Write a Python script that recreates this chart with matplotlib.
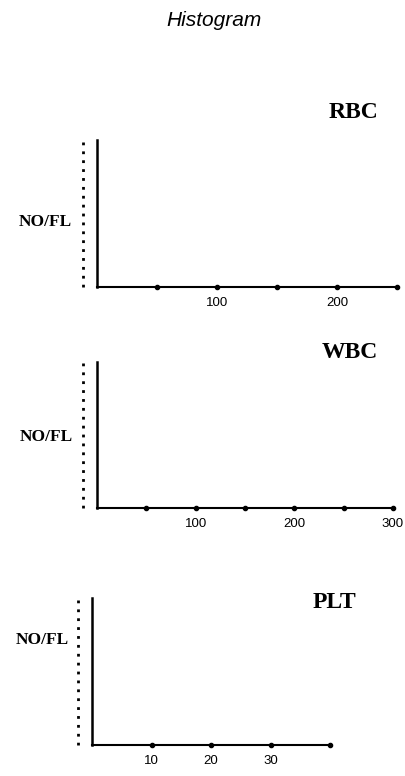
import matplotlib
matplotlib.use("Agg")
from matplotlib import pyplot as plt
import matplotlib.transforms as mtransforms

# panel data
panels = ['RBC', 'WBC', 'PLT']
x_max = [250, 300, 40]
x_ticks = [[50, 100, 150, 200, 250],
           [50, 100, 150, 200, 250, 300],
           [10, 20, 30, 40]]
x_tick_labels = [['', '100', '', '200', ''],
                 ['', '100', '', '200', '', '300'],
                 ['10', '20', '30', '']]
y_label = 'NO/FL'

W, H = 405, 776
fig = plt.figure(figsize=(W / 100, H / 100), dpi=100)

fig.text(214 / W, 1 - 21 / H, 'Histogram', ha='center', va='center',
         family='Liberation Sans', style='italic', fontsize=15)

# axes boxes in pixels: left, right, top, bottom
boxes = [(97, 397, 140, 287), (97, 393, 362, 508), (92, 330, 598, 745)]
# panel title centre in pixels
title_pos = [(353, 112), (350, 353), (334, 602)]
ylabel_pos = [(45, 222), (46, 437), (42, 640)]

for i, name in enumerate(panels):
    l, r, t, b = boxes[i]
    ax = fig.add_axes([l / W, 1 - b / H, (r - l) / W, (b - t) / H])
    ax.set_xlim(0, x_max[i])
    ax.set_ylim(0, 1)
    ax.spines['top'].set_visible(False)
    ax.spines['right'].set_visible(False)
    ax.spines['left'].set_linewidth(1.8)
    ax.spines['bottom'].set_linewidth(1.5)
    ax.set_yticks([])
    ax.set_xticks(x_ticks[i])
    ax.set_xticklabels(x_tick_labels[i], family='Liberation Sans', fontsize=9.5)
    ax.tick_params(axis='x', length=0, pad=7)
    ax.plot(x_ticks[i], [0] * len(x_ticks[i]), 'o', color='black',
            markersize=3, clip_on=False)

    # dotted line left of the y axis
    off = mtransforms.offset_copy(ax.transAxes, fig=fig, x=-14 * 0.72, y=0, units='points')
    ax.plot([0, 0], [0, 1], transform=off, color='black', linestyle=(0, (1, 2.2)),
            linewidth=2, clip_on=False)

    tx, ty = title_pos[i]
    fig.text(tx / W, 1 - ty / H, name, ha='center', va='center',
             family='Liberation Serif', weight='bold', fontsize=17)
    lx, ly = ylabel_pos[i]
    fig.text(lx / W, 1 - ly / H, y_label, ha='center', va='center',
             family='Liberation Serif', weight='bold', fontsize=12.5)

plt.savefig('out.png', dpi=100)
